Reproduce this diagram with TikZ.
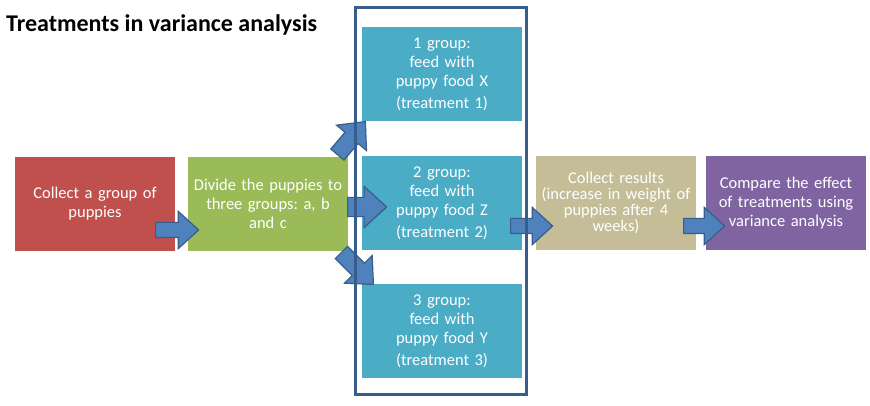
\documentclass[tikz,border=0pt]{standalone}
\usepackage{fontspec}
\setmainfont{Carlito}
\usetikzlibrary{calc,shapes.arrows}

\definecolor{collectred}{HTML}{C0504D}
\definecolor{dividegreen}{HTML}{9BBB59}
\definecolor{groupteal}{HTML}{4BACC6}
\definecolor{resulttan}{HTML}{C4BD97}
\definecolor{comparepurple}{HTML}{8064A2}
\definecolor{arrowfill}{HTML}{4F81BD}
\definecolor{arrowline}{HTML}{385D8A}

\frenchspacing

\begin{document}
\begin{tikzpicture}[x=1pt,y=-1pt]
    \tikzstyle{box}=[minimum width=160pt, minimum height=94pt, text width=158pt, align=center, inner sep=0pt, text=white, font=\fontsize{16.5}{19}\selectfont]
    \tikzstyle{blockarrow}=[single arrow, draw=arrowline, fill=arrowfill, line width=1.2pt, inner xsep=0pt, single arrow head extend=11pt, single arrow tip angle=85]

    \useasboundingbox (0,0) rectangle (870,406);

    \node[anchor=west, inner sep=0pt, font=\fontsize{24}{28}\selectfont\bfseries] (title) at (6,25) {Treatments in variance analysis};

    \node[box, fill=collectred] (collect) at (95,204) {Collect a group of\\puppies};
    \node[box, fill=dividegreen] (divide) at (268,204) {Divide the puppies to\\three groups: a, b\\and c};

    \node[box, fill=groupteal] (group1) at (442,74) {1 group:\\feed with\\puppy food X\\[3pt](treatment 1)};
    \node[box, fill=groupteal] (group2) at (442,203) {2 group:\\feed with\\puppy food Z\\[3pt](treatment 2)};
    \node[box, fill=groupteal] (group3) at (442,331) {3 group:\\feed with\\puppy food Y\\[3pt](treatment 3)};

    \node[box, fill=resulttan, font=\fontsize{16.5}{16}\selectfont] (results) at (616,203) {Collect results\\(increase in weight of\\puppies after 4\\weeks)};
    \node[box, fill=comparepurple] (compare) at (786,203) {Compare the effect\\of treatments using\\variance analysis};

    % ends of the block arrows
    \coordinate (c1) at (155,230);
    \coordinate (d1) at (198,230);
    \coordinate (c2) at (337,155);
    \coordinate (d2) at (365,122);
    \coordinate (c3) at (347,207);
    \coordinate (d3) at (386,207);
    \coordinate (c4) at (341,252);
    \coordinate (d4) at (373,284);
    \coordinate (c5) at (510,226);
    \coordinate (d5) at (552,226);
    \coordinate (c6) at (683,226);
    \coordinate (d6) at (724,226);

    \foreach \s/\t/\w in {c1/d1/7, c2/d2/8, c3/d3/9, c4/d4/8, c5/d5/7, c6/d6/7} {
        \path let \p1=($(\t)-(\s)$), \n1={atan2(\y1,\x1)}, \n2={veclen(\x1,\y1)} in
            node[blockarrow, inner ysep=\w pt, rotate=\n1, minimum height=\n2, anchor=tail] (arrow-\s) at (\s) {};
    }

    \draw[arrowline, line width=3pt] (355.5,7.5) rectangle (526.5,394.5);
\end{tikzpicture}
\end{document}
